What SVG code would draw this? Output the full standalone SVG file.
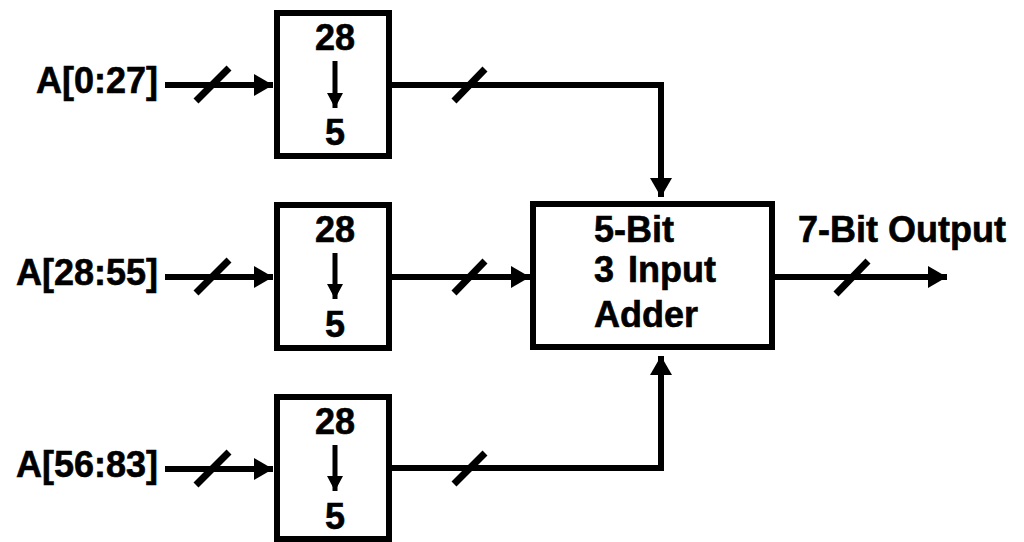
<svg xmlns="http://www.w3.org/2000/svg" width="1024" height="542" viewBox="0 0 1024 542">
<style>
text{font-family:"Liberation Sans",Arial,sans-serif;font-weight:bold;font-size:36px;fill:#000;stroke:#000;stroke-width:0.6}
.box{fill:#fff;stroke:#000;stroke-width:6}
.w{fill:none;stroke:#000;stroke-width:6}
.s{fill:none;stroke:#000;stroke-width:7}
.a{fill:none;stroke:#000;stroke-width:5}
.m{text-anchor:middle}
</style>
<defs>
<marker id="ah" markerUnits="userSpaceOnUse" markerWidth="22" markerHeight="24" refX="19" refY="11" orient="auto">
<path d="M0,0 L19,11 L0,22 Z" fill="#000"/>
</marker>
<marker id="sa" markerUnits="userSpaceOnUse" markerWidth="18" markerHeight="18" refX="15" refY="8" orient="auto">
<path d="M0,0 L15,8 L0,16 Z" fill="#000"/>
</marker>
</defs>
<g id="connectors">
<path class="w" d="M165,85 H273" marker-end="url(#ah)"/>
<path class="w" d="M165,277 H273" marker-end="url(#ah)"/>
<path class="w" d="M165,469 H273" marker-end="url(#ah)"/>
<path class="w" d="M392,85 H661 V197" marker-end="url(#ah)"/>
<path class="w" d="M392,277 H530" marker-end="url(#ah)"/>
<path class="w" d="M392,468 H661 V356" marker-end="url(#ah)"/>
<path class="w" d="M775,277 H947" marker-end="url(#ah)"/>
<path class="s" d="M196,101 L229,68 M196,293 L229,260 M196,485 L229,452 M454,101 L485,69 M454,293 L485,261 M454,484 L485,453 M836,294 L868,261"/>
</g>
<g id="label-a0"><text x="158" y="93" text-anchor="end">A[0:27]</text></g>
<g id="label-a28"><text x="158" y="285" text-anchor="end">A[28:55]</text></g>
<g id="label-a56"><text x="158" y="477" text-anchor="end">A[56:83]</text></g>
<g id="reducer1">
<rect class="box" x="277" y="13" width="112" height="143"/>
<text class="m" x="335" y="50">28</text>
<path class="a" d="M335,61 V108" marker-end="url(#sa)"/>
<text class="m" x="335" y="145">5</text>
</g>
<g id="reducer2">
<rect class="box" x="277" y="205" width="112" height="143"/>
<text class="m" x="335" y="242">28</text>
<path class="a" d="M335,253 V299" marker-end="url(#sa)"/>
<text class="m" x="335" y="337">5</text>
</g>
<g id="reducer3">
<rect class="box" x="277" y="397" width="112" height="142"/>
<text class="m" x="335" y="434">28</text>
<path class="a" d="M335,445 V491" marker-end="url(#sa)"/>
<text class="m" x="335" y="529">5</text>
</g>
<g id="adder">
<rect class="box" x="533" y="204" width="239" height="143"/>
<text x="594" y="242">5-Bit</text>
<text x="594" y="282">3 <tspan dx="4">Input</tspan></text>
<text x="594" y="327">Adder</text>
</g>
<g id="output-label"><text x="798" y="242">7-Bit Output</text></g>
</svg>
